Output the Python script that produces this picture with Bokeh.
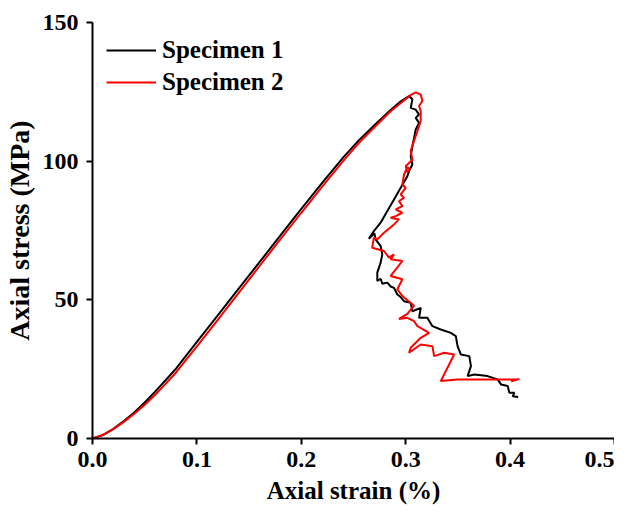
from bokeh.plotting import figure
from bokeh.models import Range1d, FixedTicker, NumeralTickFormatter
from bokeh.embed import file_html
from bokeh.resources import INLINE

# ---- data ----
s1_strain = [0.0, 0.01, 0.02, 0.03, 0.04, 0.05, 0.06, 0.07, 0.08, 0.10, 0.12, 0.14, 0.16, 0.18,
             0.20, 0.22, 0.24, 0.255, 0.27, 0.285, 0.295, 0.3032,
             0.3064, 0.3048, 0.3096, 0.3128, 0.3096, 0.3128, 0.3096, 0.308, 0.3064, 0.3048,
             0.3064, 0.3032, 0.3016, 0.2952, 0.2888, 0.2824, 0.276, 0.2695, 0.2647, 0.2700,
             0.2712, 0.276, 0.2776, 0.276, 0.2728, 0.2728, 0.2760, 0.2776, 0.2824, 0.2856,
             0.2888, 0.292, 0.2952, 0.2984, 0.3048, 0.3064, 0.3144, 0.3128, 0.3208, 0.3256,
             0.3336, 0.3432, 0.348, 0.3497, 0.3528, 0.3609, 0.3625, 0.3593, 0.3657, 0.3785,
             0.3881, 0.3913, 0.3977, 0.3993, 0.4041, 0.4025, 0.4077]
s1_stress = [0.0, 1.2, 3.5, 6.3, 9.4, 13.0, 16.9, 21.0, 25.2, 34.8, 44.4, 54.0, 63.6, 73.2,
             82.8, 92.2, 101.3, 107.5, 113.0, 118.3, 121.5, 123.5,
             122.3, 119.2, 118.6, 116.8, 115.6, 113.8, 111.4, 108.4, 105.4, 101.8,
             98.8, 96.4, 94.6, 90.4, 86.2, 82.0, 77.8, 74.8, 72.0, 74.0,
             71.8, 69.4, 66.4, 63.4, 59.8, 56.8, 57.6, 55.8, 56.2, 54.8,
             54.3, 51.9, 51.0, 49.5, 48.9, 45.9, 47.1, 43.5, 43.5, 40.5,
             39.3, 38.1, 36.9, 33.3, 30.3, 29.7, 26.1, 22.5, 23.1, 22.5,
             21.3, 19.5, 18.9, 16.5, 16.5, 15.2, 15.0]

s2_strain = [0.0, 0.01, 0.02, 0.03, 0.04, 0.05, 0.06, 0.07, 0.08, 0.10, 0.12, 0.14, 0.16, 0.18,
             0.20, 0.22, 0.24, 0.255, 0.27, 0.285, 0.298, 0.305,
             0.3096, 0.3144, 0.316, 0.3128, 0.3144, 0.3144, 0.3112, 0.308, 0.3048, 0.3064,
             0.3000, 0.3016, 0.3040, 0.3016, 0.2984, 0.2968, 0.3000, 0.2952, 0.2984, 0.2936,
             0.2968, 0.2904, 0.2968, 0.2904, 0.2856, 0.2936, 0.2888, 0.2792, 0.2728, 0.2695,
             0.2679, 0.2792, 0.2840, 0.2888, 0.2856, 0.2968, 0.2856, 0.2968, 0.2920, 0.2968,
             0.3080, 0.3016, 0.2936, 0.3016, 0.3080, 0.3112, 0.3224, 0.3144, 0.3048, 0.3032,
             0.3144, 0.3256, 0.3272, 0.3368, 0.3464, 0.3336, 0.3497, 0.3753, 0.4071, 0.4010,
             0.4090]
s2_stress = [0.0, 1.3, 3.4, 6.0, 8.9, 12.2, 15.8, 19.7, 23.8, 33.2, 42.8, 52.5, 62.2, 71.9,
             81.4, 90.8, 100.0, 106.5, 112.2, 117.8, 121.8, 123.9,
             124.8, 124.0, 121.7, 119.9, 118.0, 114.5, 110.8, 107.3, 103.7, 100.5,
             98.2, 96.0, 97.2, 97.8, 95.2, 91.6, 90.4, 88.0, 86.8, 85.6,
             83.8, 82.6, 81.4, 80.2, 79.6, 79.0, 77.2, 74.2, 71.8, 72.4,
             68.8, 67.6, 65.2, 66.4, 64.6, 64.0, 58.6, 57.4, 53.8, 51.4,
             47.9, 44.9, 43.1, 43.5, 42.3, 40.5, 38.1, 36.3, 32.7, 30.9,
             33.9, 33.3, 29.7, 30.9, 30.3, 20.7, 21.3, 21.3, 21.3, 20.6,
             21.5]

x_ticks = [0.0, 0.1, 0.2, 0.3, 0.4, 0.5]
y_ticks = [0, 50, 100, 150]
series_names = ["Specimen 1", "Specimen 2"]
series_colors = ["black", "#ff0000"]

FONT = "Liberation Serif"

p = figure(width=614, height=507, output_backend="svg", toolbar_location=None,
           x_range=Range1d(0, 0.5), y_range=Range1d(0, 150),
           min_border_left=85, min_border_right=0, min_border_top=22, min_border_bottom=69)
p.outline_line_color = None
p.xgrid.grid_line_color = None
p.ygrid.grid_line_color = None
p.background_fill_color = "white"

p.line(s1_strain, s1_stress, line_color=series_colors[0], line_width=2, legend_label=series_names[0])
p.line(s2_strain, s2_stress, line_color=series_colors[1], line_width=2, legend_label=series_names[1])

for ax in (p.xaxis[0], p.yaxis[0]):
    ax.axis_line_width = 2
    ax.major_tick_line_width = 2
    ax.major_tick_in = 0
    ax.major_tick_out = 6
    ax.minor_tick_line_color = None
    ax.major_label_text_font = FONT
    ax.major_label_text_font_style = "bold"
    ax.major_label_text_font_size = "24px"
    ax.major_label_text_color = "black"
    ax.axis_label_text_font = FONT
    ax.axis_label_text_font_style = "bold"
    ax.axis_label_text_color = "black"

p.xaxis.axis_label_text_font_size = "25px"
p.yaxis.axis_label_text_font_size = "28px"
p.xaxis.ticker = FixedTicker(ticks=x_ticks)
p.yaxis.ticker = FixedTicker(ticks=y_ticks)
p.xaxis.formatter = NumeralTickFormatter(format="0.0")
p.xaxis.axis_label = "Axial strain (%)"
p.yaxis.axis_label = "Axial stress (MPa)"
p.xaxis.major_label_standoff = 7
p.yaxis.major_label_standoff = 8
p.xaxis.axis_label_standoff = 7
p.yaxis.axis_label_standoff = 5

lg = p.legend[0]
lg.location = "top_left"
lg.border_line_color = None
lg.background_fill_alpha = 0
lg.margin = 14
lg.padding = 0
lg.spacing = 4
lg.glyph_width = 50
lg.glyph_height = 28
lg.label_height = 28
lg.label_standoff = 6
lg.label_text_font = FONT
lg.label_text_font_style = "bold"
lg.label_text_font_size = "25px"
lg.label_text_color = "black"

open("out.html", "w").write(file_html(p, INLINE))
